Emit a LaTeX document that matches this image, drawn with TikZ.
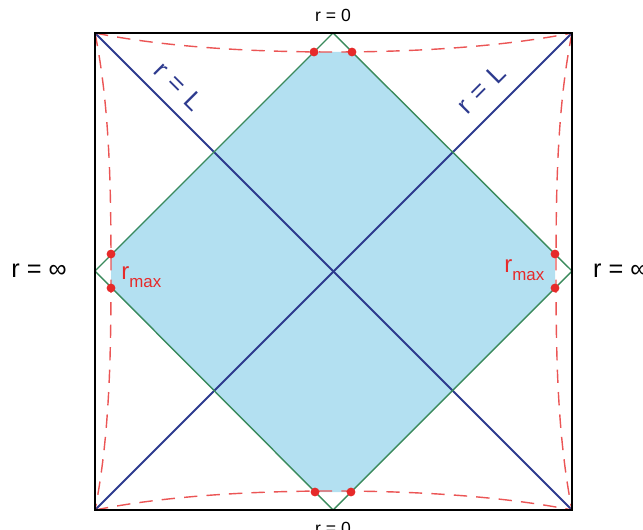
\documentclass[tikz,border=0pt]{standalone}
\usepackage{fontspec}
\setmainfont{Liberation Sans}
\definecolor{patchblue}{HTML}{B3E0F1}
\definecolor{lightgreen}{HTML}{3A8A5C}
\definecolor{lineblue}{HTML}{2D3A8E}
\definecolor{cutred}{HTML}{E62A2A}
\tikzset{
  rlabel/.style={font=\fontsize{12.5}{12.5}\selectfont},
  inflabel/.style={font=\fontsize{18}{18}\selectfont},
  Llabel/.style={font=\fontsize{18.5}{18.5}\selectfont, text=lineblue},
  cutdot/.style={circle, fill=cutred, inner sep=0pt, minimum size=2.2mm},
  cutline/.style={cutred!80!white, dash pattern=on 9.5pt off 6.5pt, line width=1pt},
}
\newcommand{\rmaxlabel}{{\fontsize{17}{17}\selectfont r}\raisebox{-5pt}{\fontsize{12}{12}\selectfont max}}
\begin{document}
\begin{tikzpicture}[x=0.025cm, y=-0.025cm, line width=0.6pt]
  \useasboundingbox (0,0) rectangle (643,530);
  \coordinate (TL) at (95,33); \coordinate (TR) at (572,33);
  \coordinate (BR) at (572,510); \coordinate (BL) at (95,510);
  \coordinate (T) at (333,33); \coordinate (R) at (572,271);
  \coordinate (B) at (333,510); \coordinate (L) at (95,271);
  % where the cut meets the diamond
  \coordinate (T1) at (314,52); \coordinate (T2) at (352,52);
  \coordinate (R1) at (555,254); \coordinate (R2) at (555,288);
  \coordinate (B1) at (351,492); \coordinate (B2) at (315,492);
  \coordinate (L1) at (111,288); \coordinate (L2) at (111,254);
  \fill[patchblue] (T1) -- (T2) -- (R1) -- (R2) -- (B1) -- (B2) -- (L1) -- (L2) -- cycle;
  \draw[lineblue, line width=1.4pt] (TL) -- (BR);
  \draw[lineblue, line width=1.4pt] (TR) -- (BL);
  \draw[lightgreen, line width=1pt] (T) -- (R) -- (B) -- (L) -- cycle;
  \draw[cutline]
    (TL) .. controls (170,48) and (260,52) .. (333,52) .. controls (406,52) and (496,48) .. (TR);
  \draw[cutline]
    (BL) .. controls (170,495) and (260,491) .. (333,491) .. controls (406,491) and (496,495) .. (BR);
  \draw[cutline]
    (TL) .. controls (110,108) and (111,190) .. (111,271) .. controls (111,352) and (110,434) .. (BL);
  \draw[cutline]
    (TR) .. controls (557,108) and (556,190) .. (556,271) .. controls (556,352) and (557,434) .. (BR);
  \draw[line width=1.8pt] (TL) -- (TR) -- (BR) -- (BL) -- cycle;
  \foreach \p in {T1,T2,R1,R2,B1,B2,L1,L2}
    \node[cutdot] (dot\p) at (\p) {};
  \node[rlabel] (rtop) at (333,15) {r = 0};
  \node[rlabel, anchor=north] (rbot) at (333,517) {r = 0};
  \node[inflabel] (rleft) at (39,271) {r = ∞};
  \node[inflabel, anchor=west] (rright) at (588,271) {r = ∞};
  \node[Llabel, rotate=-45, inner sep=0pt] (Lleft) at (179,86) {r\hspace{0.35em}=\hspace{0.35em}L};
  \node[Llabel, rotate=45, inner sep=0pt] (Lright) at (481,89) {r\hspace{0.35em}=\hspace{0.35em}L};
  \node[text=cutred, anchor=base west, inner sep=0pt] (rmaxl) at (121,280) {\rmaxlabel};
  \node[text=cutred, anchor=base west, inner sep=0pt] (rmaxr) at (504,273) {\rmaxlabel};
\end{tikzpicture}
\end{document}
